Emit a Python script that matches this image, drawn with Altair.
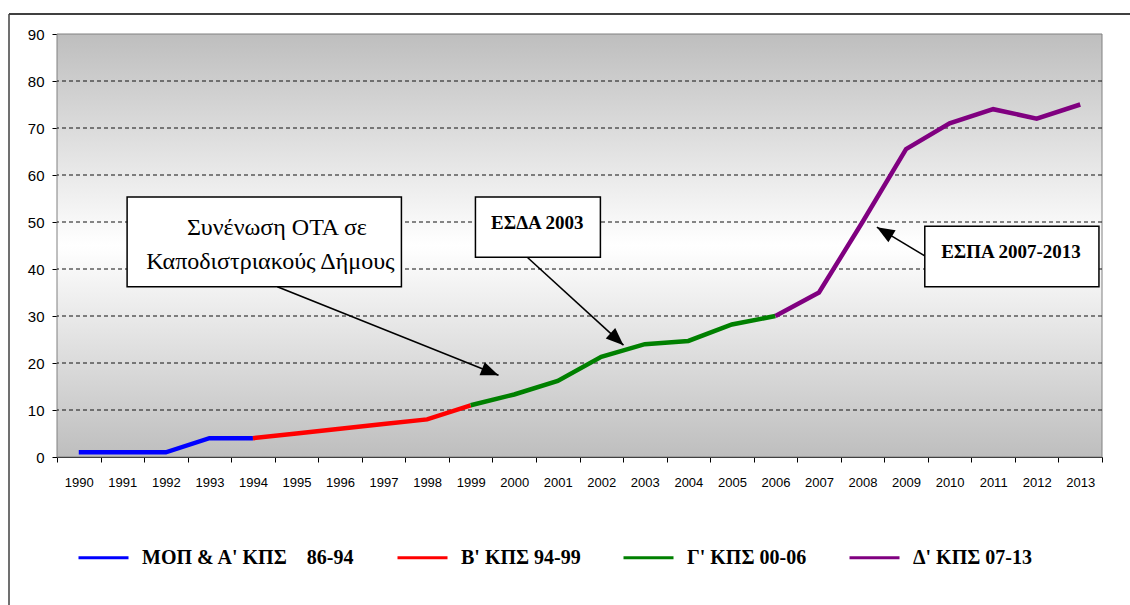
import math
import altair as alt
import pandas as pd

# Programme periods and the yearly series
years = list(range(1990, 2014))
values = [1, 1, 1, 4, 4, 5, 6, 7, 8, 11, 13.3, 16.2, 21.3, 24, 24.7, 28.2,
          30, 35, 50, 65.5, 71, 74, 72, 75]

NB = "\u00a0"
programmes = [NB * 2 + "ΜΟΠ & Α' ΚΠΣ" + NB * 4 + "86-94", "Β' ΚΠΣ 94-99",
              "Γ' ΚΠΣ 00-06", "Δ' ΚΠΣ 07-13"]
period_start = [1990, 1994, 1999, 2006]
period_end = [1994, 1999, 2006, 2013]
colors = ["#0000ff", "#ff0000", "#008000", "#800080"]

y_ticks = list(range(0, 100, 10))
grid_values = list(range(10, 90, 10))

# Callout boxes (year / value coordinates)
box_x1 = [1991.11, 1999.11, 2009.43]
box_x2 = [1997.41, 2001.98, 2013.43]
box_y1 = [36.2, 42.5, 36.2]
box_y2 = [55.3, 55.3, 49.1]

plain_text = ["Συνένωση ΟΤΑ σε", "Καποδιστριακούς Δήμους"]
plain_x = [1994.55, 1994.40]
plain_y = [48.7, 41.4]

bold_text = ["ΕΣΔΑ 2003", "ΕΣΠΑ 2007-2013"]
bold_x = [2000.53, 2011.41]
bold_y = [49.8, 43.6]

arrow_x = [1994.56, 2000.30, 2009.43]
arrow_y = [36.2, 42.5, 42.8]
arrow_tip_x = [1999.64, 2002.51, 2008.33]
arrow_tip_y = [17.4, 23.8, 48.9]

W, H = 1045, 423
LEFT, TOP = 57, 34
X_MIN, X_MAX = 1989.5, 2013.5
Y_MIN, Y_MAX = 0, 90
px_per_year = W / (X_MAX - X_MIN)
px_per_unit = H / (Y_MAX - Y_MIN)

rows = []
for name, s, e in zip(programmes, period_start, period_end):
    for yr, v in zip(years, values):
        if s <= yr <= e:
            rows.append({"year": yr, "value": v, "programme": name})
series = pd.DataFrame(rows)

angles = []
for sx, sy, tx, ty in zip(arrow_x, arrow_y, arrow_tip_x, arrow_tip_y):
    dxp = (tx - sx) * px_per_year
    dyp = -(ty - sy) * px_per_unit
    angles.append(math.degrees(math.atan2(dxp, -dyp)) % 360)

arrows = pd.DataFrame({"x": arrow_x, "y": arrow_y, "tx": arrow_tip_x,
                       "ty": arrow_tip_y, "angle": angles})
boxes = pd.DataFrame({"x1": box_x1, "x2": box_x2, "y1": box_y1, "y2": box_y2})
plain = pd.DataFrame({"t": plain_text, "x": plain_x, "y": plain_y})
bold = pd.DataFrame({"t": bold_text, "x": bold_x, "y": bold_y})
grid = pd.DataFrame({"v": grid_values})
one = pd.DataFrame({"k": [0]})

xs = alt.Scale(domain=[X_MIN, X_MAX], nice=False, zero=False)
ys = alt.Scale(domain=[Y_MIN, Y_MAX], nice=False)

half_years = [X_MIN + i for i in range(25)]

x_axis = alt.Axis(values=half_years, grid=False, title=None,
                  labelExpr="datum.value > 2013 ? '' : toString(datum.value + 0.5)",
                  labelOffset=px_per_year / 2, labelFont="Liberation Sans",
                  labelFontSize=13, labelColor="black", labelPadding=14,
                  tickColor="black", tickSize=5, domainColor="black",
                  labelFlush=False, labelOverlap=False)
y_axis = alt.Axis(values=y_ticks, grid=False, title=None,
                  labelFont="Liberation Sans", labelFontSize=15,
                  labelColor="black", labelPadding=8, tickColor="black",
                  tickSize=5, domainColor="black")


def X(field):
    return alt.X(field, scale=xs, axis=x_axis, title=None)


def Y(field):
    return alt.Y(field, scale=ys, axis=y_axis, title=None)


background = alt.Chart(one).mark_rect(
    fill=alt.Gradient(gradient="linear", x1=0, y1=0, x2=0, y2=1,
                      stops=[alt.GradientStop(offset=0, color="#bebebe"),
                             alt.GradientStop(offset=0.5, color="#ffffff"),
                             alt.GradientStop(offset=1, color="#bebebe")]),
    stroke="#808080", strokeWidth=1,
).encode(x=alt.value(0), x2=alt.value(W), y=alt.value(0), y2=alt.value(H))

gridlines = alt.Chart(grid).mark_rule(
    color="#111111", strokeWidth=1, strokeDash=[4, 3]
).encode(y=Y("v:Q"))

lines = alt.Chart(series).mark_line(strokeWidth=4.5).encode(
    x=X("year:Q"),
    y=Y("value:Q"),
    color=alt.Color("programme:N",
                    scale=alt.Scale(domain=programmes, range=colors),
                    sort=programmes,
                    legend=alt.Legend(orient="none", legendX=20, legendY=497,
                                      direction="horizontal", title=None,
                                      symbolType="stroke", symbolSize=2500,
                                      symbolStrokeWidth=3, labelOffset=12,
                                      labelFont="Liberation Serif",
                                      labelFontWeight="bold", labelFontSize=20,
                                      labelColor="black", labelLimit=400,
                                      columnPadding=36)),
)

arrow_lines = alt.Chart(arrows).mark_rule(color="black", strokeWidth=1.6).encode(
    x=X("x:Q"), y=Y("y:Q"), x2="tx:Q", y2="ty:Q")

arrow_heads = alt.Chart(arrows).mark_point(
    shape="M0,0 L-0.8,2 L0.8,2 Z", filled=True, color="black", opacity=1,
    size=310,
).encode(x=X("tx:Q"), y=Y("ty:Q"), angle=alt.Angle("angle:Q", scale=None))

callouts = alt.Chart(boxes).mark_rect(fill="white", stroke="black",
                                      strokeWidth=1.5).encode(
    x=X("x1:Q"), x2="x2:Q", y=Y("y1:Q"), y2="y2:Q")

plain_labels = alt.Chart(plain).mark_text(
    font="Liberation Serif", fontSize=24, color="black", align="center",
    baseline="middle").encode(x=X("x:Q"), y=Y("y:Q"), text="t:N")

bold_labels = alt.Chart(bold).mark_text(
    font="Liberation Serif", fontSize=19, fontWeight="bold", color="black",
    align="center", baseline="middle").encode(x=X("x:Q"), y=Y("y:Q"), text="t:N")

# Outer frame of the figure (top and left edges)
frame_top = alt.Chart(one).mark_rule(color="#404040", strokeWidth=2).encode(
    x=alt.value(9 - LEFT), x2=alt.value(1135 - LEFT), y=alt.value(14 - TOP))
frame_left = alt.Chart(one).mark_rule(color="#404040", strokeWidth=1.5).encode(
    x=alt.value(9 - LEFT), y=alt.value(14 - TOP), y2=alt.value(610 - TOP))

chart = alt.layer(
    background, gridlines, lines, arrow_lines, arrow_heads, callouts,
    plain_labels, bold_labels, frame_top, frame_left,
).properties(
    width=W, height=H,
    padding={"left": LEFT, "top": TOP, "right": 1130 - LEFT - W,
             "bottom": 605 - TOP - H},
    autosize=alt.AutoSizeParams(type="none"),
    background="white",
).configure_view(stroke=None).configure_axis(zindex=1)

chart.save("out.html", embed_options={"renderer": "svg", "actions": False})
